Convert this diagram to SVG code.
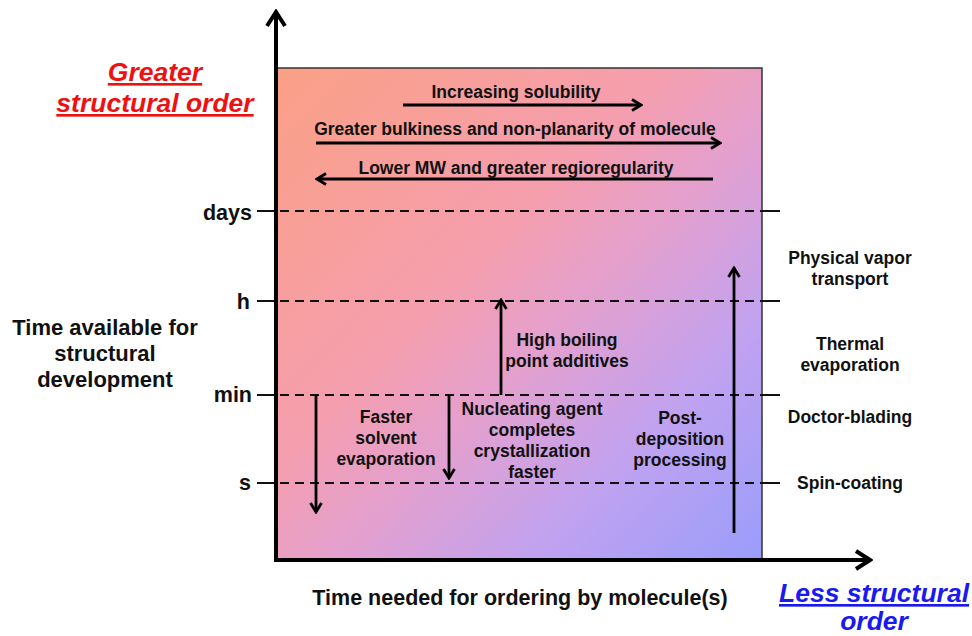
<svg xmlns="http://www.w3.org/2000/svg" width="972" height="636" viewBox="0 0 972 636">
<defs>
<linearGradient id="bg" x1="0" y1="0" x2="1" y2="1">
<stop offset="0" stop-color="#fba085"/>
<stop offset="0.4" stop-color="#f59eae"/>
<stop offset="0.56" stop-color="#e3a0cf"/>
<stop offset="0.76" stop-color="#c0a2f0"/>
<stop offset="1" stop-color="#999dfb"/>
</linearGradient>
<marker id="ah" viewBox="0 0 14 14" refX="12" refY="7" markerWidth="14" markerHeight="14" markerUnits="userSpaceOnUse" orient="auto">
<path d="M3,1.5 L12,7 L3,12.5" fill="none" stroke="#000" stroke-width="2.8"/>
</marker>
<marker id="axh" viewBox="0 0 22 22" refX="19" refY="11" markerWidth="22" markerHeight="22" markerUnits="userSpaceOnUse" orient="auto">
<path d="M5,2 L19,11 L5,20" fill="none" stroke="#000" stroke-width="4"/>
</marker>
</defs>
<style>
text{font-family:"Liberation Sans",Arial,sans-serif;font-weight:bold;fill:#111;text-anchor:middle}
.s{font-size:17.5px}
.m{font-size:21.5px}
.t{font-size:22px}
.red{fill:#ee1111;font-size:26.5px;font-style:italic;text-decoration:underline}
.blue{fill:#1a1af0;font-size:26.5px;font-style:italic}
.u{text-decoration:underline}
.dash{stroke:#111;stroke-width:2;stroke-dasharray:9,6}
.tick{stroke:#111;stroke-width:2}
.arr{stroke:#000;stroke-width:2.8;fill:none;marker-end:url(#ah)}
.ax{stroke:#000;stroke-width:4;fill:none;marker-end:url(#axh)}
</style>
<g id="plot-area">
<rect x="277" y="68" width="485" height="492" fill="url(#bg)" stroke="#333" stroke-width="1.5"/>
</g>
<g id="gridlines">
<line class="tick" x1="257" y1="211" x2="278" y2="211"/><line class="dash" x1="280" y1="211" x2="762" y2="211"/><line class="tick" x1="762" y1="211" x2="780" y2="211"/>
<line class="tick" x1="257" y1="301" x2="278" y2="301"/><line class="dash" x1="280" y1="301" x2="762" y2="301"/><line class="tick" x1="762" y1="301" x2="780" y2="301"/>
<line class="tick" x1="257" y1="395" x2="278" y2="395"/><line class="dash" x1="280" y1="395" x2="762" y2="395"/><line class="tick" x1="762" y1="395" x2="780" y2="395"/>
<line class="tick" x1="257" y1="483" x2="278" y2="483"/><line class="dash" x1="280" y1="483" x2="762" y2="483"/><line class="tick" x1="762" y1="483" x2="780" y2="483"/>
</g>
<g id="axes">
<line class="ax" x1="276" y1="562" x2="276" y2="12"/>
<line class="ax" x1="274" y1="560" x2="870" y2="560"/>
</g>
<g id="connectors">
<line class="arr" x1="403" y1="105" x2="641" y2="105"/>
<line class="arr" x1="316" y1="143" x2="720" y2="143"/>
<line class="arr" x1="713" y1="179" x2="317" y2="179"/>
<line class="arr" x1="316" y1="395" x2="316" y2="512"/>
<line class="arr" x1="449" y1="395" x2="449" y2="478"/>
<line class="arr" x1="501" y1="395" x2="501" y2="300"/>
<line class="arr" x1="734" y1="533" x2="734" y2="268"/>
</g>
<g id="title-greater">
<text class="red" x="155" y="81">Greater</text>
<text class="red" x="155" y="112">structural order</text>
</g>
<g id="title-less">
<text class="blue u" x="874" y="602">Less structural</text>
<text class="blue" x="874" y="630">order</text>
</g>
<g id="y-label">
<text class="t" x="105" y="335">Time available for</text>
<text class="t" x="105" y="361">structural</text>
<text class="t" x="105" y="387">development</text>
</g>
<g id="x-label">
<text class="m" x="520" y="605">Time needed for ordering by molecule(s)</text>
</g>
<g id="tick-labels">
<text class="m" x="252" y="220" style="text-anchor:end">days</text>
<text class="m" x="250" y="309" style="text-anchor:end">h</text>
<text class="m" x="252" y="402" style="text-anchor:end">min</text>
<text class="m" x="251" y="490" style="text-anchor:end">s</text>
</g>
<g id="top-labels">
<text class="s" x="516" y="98">Increasing solubility</text>
<text class="s" x="515" y="135">Greater bulkiness and non-planarity of molecule</text>
<text class="s" x="516" y="174">Lower MW and greater regioregularity</text>
</g>
<g id="high-boiling">
<text class="s" x="567" y="346">High boiling</text>
<text class="s" x="567" y="367">point additives</text>
</g>
<g id="faster-solvent">
<text class="s" x="386" y="423">Faster</text>
<text class="s" x="386" y="444">solvent</text>
<text class="s" x="386" y="465">evaporation</text>
</g>
<g id="nucleating">
<text class="s" x="532" y="415">Nucleating agent</text>
<text class="s" x="532" y="436">completes</text>
<text class="s" x="532" y="457">crystallization</text>
<text class="s" x="532" y="478">faster</text>
</g>
<g id="post-deposition">
<text class="s" x="680" y="424">Post-</text>
<text class="s" x="680" y="445">deposition</text>
<text class="s" x="680" y="466">processing</text>
</g>
<g id="method-labels">
<text class="s" x="850" y="264">Physical vapor</text>
<text class="s" x="850" y="285">transport</text>
<text class="s" x="850" y="350">Thermal</text>
<text class="s" x="850" y="371">evaporation</text>
<text class="s" x="850" y="423">Doctor-blading</text>
<text class="s" x="850" y="489">Spin-coating</text>
</g>
</svg>
